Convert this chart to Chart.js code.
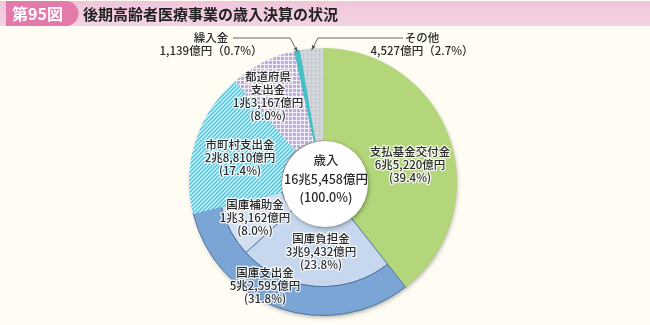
<!DOCTYPE html>
<html lang="ja">
<head>
<meta charset="utf-8">
<title>後期高齢者医療事業の歳入決算の状況</title>
<script src="https://cdn.jsdelivr.net/npm/chart.js@4.4.0/dist/chart.umd.min.js"></script>
<style>
  html, body { margin: 0; padding: 0; background: #fffdf3; }
  #wrap { position: relative; width: 650px; height: 325px; }
  canvas { display: block; }
</style>
</head>
<body>
<div id="wrap"><canvas id="c" width="650" height="325"></canvas></div>
<script>
// 歳入の内訳（外側の輪：主な区分）
const categories = ['支払基金交付金', '国庫支出金', '市町村支出金', '都道府県支出金', '繰入金', 'その他'];
const amounts = ['6兆5,220億円', '5兆2,595億円', '2兆8,810億円', '1兆3,167億円', '1,139億円', '4,527億円'];
const shares = [39.4, 31.8, 17.4, 8.0, 0.7, 2.7];

// 国庫支出金の内訳（内側の輪）
const subCategories = ['国庫負担金', '国庫補助金'];
const subAmounts = ['3兆9,432億円', '1兆3,162億円'];
const subShares = [23.8, 8.0];

// 歳入合計
const totalLabel = '歳入';
const totalAmount = '16兆5,458億円';
const totalShare = 100.0;

// ---- fill patterns ----
function makePattern(size, draw) {
  const c = document.createElement('canvas');
  c.width = size; c.height = size;
  const g = c.getContext('2d');
  draw(g, size);
  return g.createPattern(c, 'repeat');
}
const ctx0 = document.getElementById('c').getContext('2d');

const hatchCyan = makePattern(4, (g, s) => {
  g.fillStyle = '#58c7df'; g.fillRect(0, 0, s, s);
  g.strokeStyle = 'rgba(255,255,255,0.9)'; g.lineWidth = 1.2;
  g.beginPath();
  g.moveTo(-1, s + 1); g.lineTo(s + 1, -1);
  g.moveTo(-1, 1); g.lineTo(1, -1);
  g.moveTo(s - 1, s + 1); g.lineTo(s + 1, s - 1);
  g.stroke();
});
const gridPurple = makePattern(4, (g, s) => {
  g.fillStyle = '#c4b2dc'; g.fillRect(0, 0, s, s);
  g.fillStyle = 'rgba(255,255,255,0.75)';
  g.fillRect(0, 0, s, 1);
  g.fillRect(0, 0, 1, s);
  g.fillStyle = '#ae98cd';
  g.fillRect(2, 2, 1, 1);
});
const dotsGray = makePattern(4, (g, s) => {
  g.fillStyle = '#cdd3d7'; g.fillRect(0, 0, s, s);
  g.fillStyle = '#e8ecee'; g.fillRect(1, 1, 1, 1);
  g.fillStyle = '#b3bbc1'; g.fillRect(3, 2, 1, 1);
});

const green = '#b3d67a';
const blueBand = '#7aa5d4';
const blueFutan = '#c7d8ee';
const blueHojo = '#d3e0f2';
const teal = '#45bfc4';
const kokkoEdge = '#4f76a3';

const outerColors = [green, blueBand, hatchCyan, gridPurple, teal, dotsGray];
const outerBorders = [green, kokkoEdge, hatchCyan, gridPurple, teal, dotsGray];

// inner ring: 国庫支出金 split into its two parts, others unchanged
const innerData = [shares[0], subShares[0], subShares[1], shares[2], shares[3], shares[4], shares[5]];
const innerColors = [green, blueFutan, blueHojo, hatchCyan, gridPurple, teal, dotsGray];
const innerBorders = [green, kokkoEdge, kokkoEdge, hatchCyan, gridPurple, teal, dotsGray];

const pct = v => v.toFixed(1) + '%';

// label anchors (text centre x, first line y)
const labelSpots = {
  main: [
    { x: 410, y: 152, lines: [categories[0], amounts[0], '(' + pct(shares[0]) + ')'] },
    { x: 265, y: 273, lines: [categories[1], amounts[1], '(' + pct(shares[1]) + ')'] },
    { x: 240, y: 145, lines: [categories[2], amounts[2], '(' + pct(shares[2]) + ')'] },
    { x: 268, y: 77, lines: ['都道府県', '支出金', amounts[3], '(' + pct(shares[3]) + ')'] },
  ],
  sub: [
    { x: 321, y: 239, lines: [subCategories[0], subAmounts[0], '(' + pct(subShares[0]) + ')'] },
    { x: 255, y: 205, lines: [subCategories[1], subAmounts[1], '(' + pct(subShares[1]) + ')'] },
  ]
};

const FONT = '"Noto Sans CJK JP", "Noto Sans", sans-serif';
const LABEL_FONT = '500 11.5px ' + FONT;

function haloText(ctx, text, x, y) {
  ctx.lineJoin = 'round';
  ctx.strokeStyle = 'rgba(255,255,255,0.85)';
  ctx.lineWidth = 2.5;
  ctx.strokeText(text, x, y);
  ctx.fillStyle = '#2b2b2b';
  ctx.fillText(text, x, y);
}

function drawBlock(ctx, spot, step) {
  spot.lines.forEach((t, i) => haloText(ctx, t, spot.x, spot.y + i * step));
}

function arrowTo(ctx, pts) {
  ctx.save();
  ctx.strokeStyle = '#555';
  ctx.fillStyle = '#555';
  ctx.lineWidth = 0.9;
  ctx.beginPath();
  ctx.moveTo(pts[0][0], pts[0][1]);
  for (let i = 1; i < pts.length; i++) ctx.lineTo(pts[i][0], pts[i][1]);
  ctx.stroke();
  const [px, py] = pts[pts.length - 2];
  const [tx, ty] = pts[pts.length - 1];
  const a = Math.atan2(ty - py, tx - px);
  ctx.beginPath();
  ctx.moveTo(tx, ty);
  ctx.lineTo(tx - 5 * Math.cos(a - 0.4), ty - 5 * Math.sin(a - 0.4));
  ctx.lineTo(tx - 5 * Math.cos(a + 0.4), ty - 5 * Math.sin(a + 0.4));
  ctx.closePath();
  ctx.fill();
  ctx.restore();
}

function arcMidOuter(arc) {
  const m = (arc.startAngle + arc.endAngle) / 2;
  return [arc.x + Math.cos(m) * arc.outerRadius, arc.y + Math.sin(m) * arc.outerRadius];
}

const titleAndLabels = {
  id: 'titleAndLabels',
  beforeDraw(chart) {
    const ctx = chart.ctx;
    ctx.save();
    ctx.fillStyle = '#fffdf3';
    ctx.fillRect(0, 0, chart.width, chart.height);
    // title band
    const grad = ctx.createLinearGradient(0, 1, 0, 26);
    grad.addColorStop(0, '#efc6da');
    grad.addColorStop(1, '#f3d3e3');
    ctx.fillStyle = grad;
    ctx.fillRect(0, 1, chart.width, 25);
    // figure number tab
    ctx.fillStyle = '#e27aaa';
    ctx.beginPath();
    ctx.moveTo(6, 1);
    ctx.lineTo(66, 1);
    ctx.arc(66, 13.5, 12.5, -Math.PI / 2, Math.PI / 2);
    ctx.lineTo(6, 26);
    ctx.closePath();
    ctx.fill();
    ctx.textBaseline = 'middle';
    ctx.textAlign = 'left';
    ctx.fillStyle = '#ffffff';
    ctx.font = 'bold 16px ' + FONT;
    ctx.fillText('第95図', 12, 14);
    ctx.fillStyle = '#222222';
    ctx.font = 'bold 15px ' + FONT;
    ctx.fillText('後期高齢者医療事業の歳入決算の状況', 83, 14);
    ctx.restore();
  },
  beforeDatasetsDraw(chart) {
    // soft shadow under the whole pie
    const ctx = chart.ctx;
    const a = chart.getDatasetMeta(0).data[0];
    if (!a) return;
    ctx.save();
    ctx.shadowColor = 'rgba(0,0,0,0.35)';
    ctx.shadowBlur = 4;
    ctx.shadowOffsetX = 1;
    ctx.shadowOffsetY = 2;
    ctx.fillStyle = '#9aa0a6';
    ctx.beginPath();
    ctx.arc(a.x, a.y, a.outerRadius - 0.5, 0, Math.PI * 2);
    ctx.fill();
    ctx.restore();
  },
  afterDatasetsDraw(chart) {
    const ctx = chart.ctx;
    const outer = chart.getDatasetMeta(0).data;
    const inner = chart.getDatasetMeta(1).data;
    const cx = outer[0].x, cy = outer[0].y;
    const r0 = inner[0].innerRadius + 1;

    ctx.save();
    // white centre disc
    ctx.shadowColor = 'rgba(0,0,0,0.35)';
    ctx.shadowBlur = 4;
    ctx.shadowOffsetX = 1;
    ctx.shadowOffsetY = 1.5;
    ctx.fillStyle = '#ffffff';
    ctx.beginPath();
    ctx.arc(cx + 2, cy + 2, r0, 0, Math.PI * 2);
    ctx.fill();
    ctx.restore();

    ctx.save();
    ctx.textAlign = 'center';
    ctx.textBaseline = 'middle';
    ctx.font = LABEL_FONT;
    labelSpots.main.forEach(s => drawBlock(ctx, s, 12.8));
    labelSpots.sub.forEach(s => drawBlock(ctx, s, 13));

    ctx.font = '500 12.5px ' + FONT;
    ctx.fillStyle = '#2b2b2b';
    ctx.fillText(totalLabel, cx + 3, 160);
    ctx.fillText(totalAmount, cx + 3, 179);
    ctx.fillText('(' + pct(totalShare) + ')', cx + 3, 197);

    // small slices labelled outside with leader arrows
    ctx.font = LABEL_FONT;
    ctx.fillText(categories[4], 211, 38);
    ctx.fillText(amounts[4] + '（' + pct(shares[4]) + '）', 211, 51);
    ctx.fillText(categories[5], 422, 38);
    ctx.fillText(amounts[5] + '（' + pct(shares[5]) + '）', 422, 51);
    ctx.restore();

    const tipA = arcMidOuter(outer[4]);
    const tipB = arcMidOuter(outer[5]);
    arrowTo(ctx, [[233, 38], [290, 38], [tipA[0], tipA[1] + 1]]);
    arrowTo(ctx, [[403, 38], [318, 38], [tipB[0], tipB[1] + 1]]);
  }
};

new Chart(ctx0, {
  type: 'doughnut',
  data: {
    labels: categories,
    datasets: [
      {
        data: shares,
        backgroundColor: outerColors,
        borderColor: outerBorders,
        borderWidth: 1,
        weight: 29
      },
      {
        data: innerData,
        backgroundColor: innerColors,
        borderColor: innerBorders,
        borderWidth: 1,
        weight: 63
      }
    ]
  },
  options: {
    responsive: false,
    animation: false,
    cutout: 42,
    layout: { padding: { left: 189, right: 193, top: 48, bottom: 9 } },
    plugins: {
      legend: { display: false },
      tooltip: { enabled: false }
    }
  },
  plugins: [titleAndLabels]
});
</script>
</body>
</html>
